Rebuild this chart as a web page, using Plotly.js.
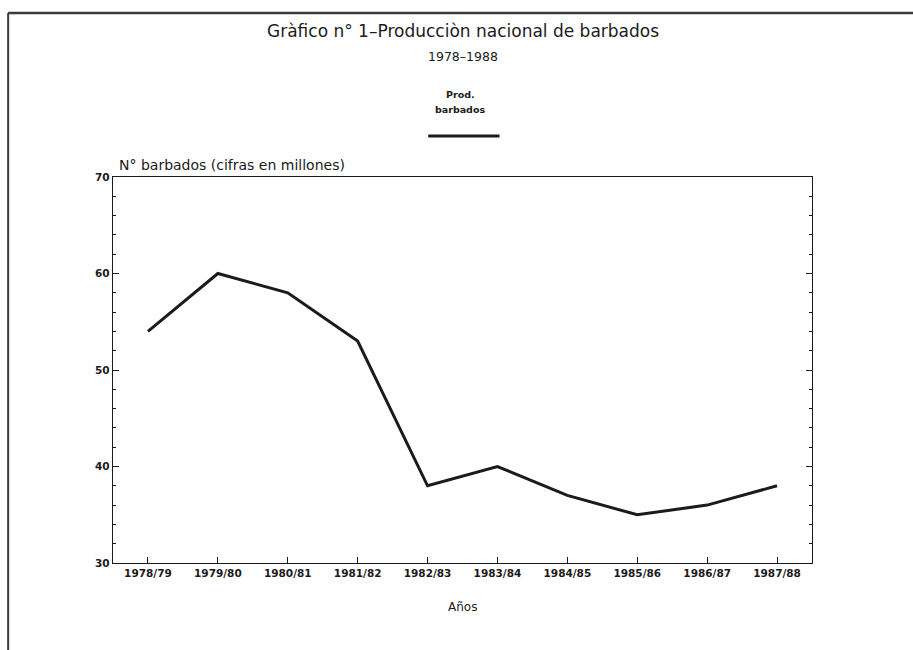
<!DOCTYPE html>
<html>
<head>
<meta charset="utf-8">
<script src="https://cdn.plot.ly/plotly-3.0.1.min.js"></script>
<style>html,body{margin:0;padding:0;background:#fff;}</style>
</head>
<body>
<div id="chart" style="width:913px;height:650px;"></div>
<script>
const years = ["1978/79","1979/80","1980/81","1981/82","1982/83","1983/84","1984/85","1985/86","1986/87","1987/88"];
const production = [54, 60, 58, 53, 38, 40, 37, 35, 36, 38];
const yTicks = [30, 40, 50, 60, 70];

const FONT = "DejaVu Sans, Verdana, sans-serif";
const INK = "#1b1b1b";

const trace = {
  x: years.map((_, i) => i),
  y: production,
  type: "scatter",
  mode: "lines",
  line: {color: INK, width: 3},
  name: "Prod. barbados",
  showlegend: false,
  hoverinfo: "x+y"
};

const layout = {
  width: 913, height: 650,
  margin: {l: 113, r: 101, t: 177, b: 87},
  paper_bgcolor: "#fff", plot_bgcolor: "#fff",
  font: {family: FONT, color: INK},
  showlegend: false,
  xaxis: {
    range: [-0.5, 9.5],
    tickmode: "array",
    tickvals: years.map((_, i) => i),
    ticktext: years,
    ticks: "inside", ticklen: 6, tickwidth: 1, tickcolor: INK,
    showline: true, linecolor: INK, linewidth: 1.2, mirror: true,
    showgrid: false, zeroline: false,
    tickfont: {family: FONT, size: 10.5, color: INK, weight: "bold"},
    title: {text: ""}
  },
  yaxis: {
    range: [30, 70],
    tickmode: "array",
    tickvals: yTicks,
    ticks: "inside", ticklen: 6, tickwidth: 1, tickcolor: INK,
    minor: {dtick: 2, ticks: "inside", ticklen: 3, tickcolor: INK, showgrid: false},
    showline: true, linecolor: INK, linewidth: 1.2, mirror: "ticks",
    showgrid: false, zeroline: false,
    tickfont: {family: FONT, size: 10.5, color: INK, weight: "bold"},
    title: {text: ""}
  },
  annotations: [
    {text: "Gràfico n° 1–Producciòn nacional de barbados", xref: "paper", yref: "paper", x: 0.5, y: 1.378, xanchor: "center", yanchor: "middle", showarrow: false, font: {family: FONT, size: 17, color: INK}},
    {text: "1978–1988", xref: "paper", yref: "paper", x: 0.5, y: 1.311, xanchor: "center", yanchor: "middle", showarrow: false, font: {family: FONT, size: 12.5, color: INK}},
    {text: "Prod.", xref: "paper", yref: "paper", x: 0.497, y: 1.215, xanchor: "center", yanchor: "middle", showarrow: false, font: {family: FONT, size: 9.5, color: INK, weight: "bold"}},
    {text: "barbados", xref: "paper", yref: "paper", x: 0.497, y: 1.174, xanchor: "center", yanchor: "middle", showarrow: false, font: {family: FONT, size: 9.5, color: INK, weight: "bold"}},
    {text: "N° barbados (cifras en millones)", xref: "paper", yref: "paper", x: 0.006, y: 1.031, xanchor: "left", yanchor: "middle", showarrow: false, font: {family: FONT, size: 14, color: INK}},
    {text: "Años", xref: "paper", yref: "paper", x: 0.5, y: -0.114, xanchor: "center", yanchor: "middle", showarrow: false, font: {family: FONT, size: 12, color: INK}}
  ],
  shapes: [
    {type: "line", xref: "paper", yref: "paper", x0: 0.451, x1: 0.553, y0: 1.106, y1: 1.106, line: {color: INK, width: 3}},
    {type: "line", xref: "paper", yref: "paper", x0: -0.150, x1: 1.16, y0: 1.425, y1: 1.425, line: {color: "#3a3a3a", width: 2.5}},
    {type: "line", xref: "paper", yref: "paper", x0: -0.150, x1: -0.150, y0: 1.425, y1: -0.24, line: {color: "#3a3a3a", width: 2}}
  ]
};

Plotly.newPlot("chart", [trace], layout, {displayModeBar: false, staticPlot: true});
</script>
</body>
</html>
